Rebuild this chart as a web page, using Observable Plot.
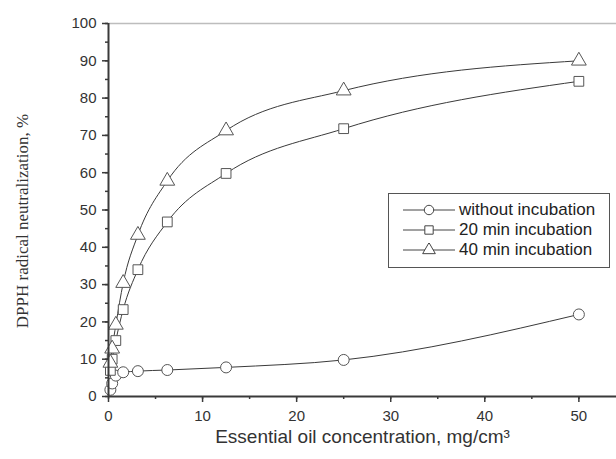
<!DOCTYPE html>
<html>
<head>
<meta charset="utf-8">
<script src="https://cdn.jsdelivr.net/npm/d3@7"></script>
<script src="https://cdn.jsdelivr.net/npm/@observablehq/plot@0.6"></script>
<style>
  html, body { margin: 0; padding: 0; background: #fff; }
  #wrap { position: relative; width: 616px; height: 459px; }
  #legend { position: absolute; left: 388px; top: 193px; width: 222px; height: 75px;
    border: 1px solid #555; background: #fff; box-sizing: border-box;
    font-family: "Liberation Sans", Arial, sans-serif; font-size: 17px; color: #222; padding-top: 6px; }
  .row { display: flex; align-items: center; height: 20px; }
  .row svg { margin-left: 14px; margin-right: 4px; }
</style>
</head>
<body>
<div id="wrap"></div>
<script>
const conc = [0.2, 0.39, 0.78, 1.56, 3.125, 6.25, 12.5, 25, 50];
const seriesNames = ["without incubation", "20 min incubation", "40 min incubation"];
const seriesSymbols = ["circle", "square", "triangle"];
const withoutIncubation = [1.8, 3.5, 5.6, 6.5, 6.8, 7.1, 7.8, 9.8, 22];
const min20Incubation = [7, 10, 15, 23.3, 34, 46.8, 59.8, 71.8, 84.5];
const min40Incubation = [9, 12.8, 19.2, 30.4, 43.3, 57.8, 71.3, 82, 90];
const yMajorTicks = d3.range(0, 101, 10);
const yMinorTicks = d3.range(0, 101, 5);
const xMajorTicks = [0, 10, 20, 30, 40, 50];
const xMinorTicks = d3.range(0, 55, 5);

const values = [withoutIncubation, min20Incubation, min40Incubation];
const data = values.flatMap((vals, i) =>
  vals.map((v, j) => ({ x: conc[j], y: v, series: seriesNames[i], symbol: seriesSymbols[i] })));

const ink = "#3a3a3a";
const chart = Plot.plot({
  width: 616,
  height: 459,
  marginLeft: 108,
  marginRight: 0,
  marginTop: 23,
  marginBottom: 63,
  style: { fontFamily: "Liberation Sans, Arial, sans-serif", fontSize: "14px", color: "#333", background: "#fff" },
  x: { domain: [0, 54], axis: null },
  y: { domain: [0, 100], axis: null },
  marks: [
    Plot.ruleY([100], { stroke: "#bdbdbd", strokeWidth: 1.5 }),
    Plot.line(data, { x: "x", y: "y", z: "series", curve: "monotone-x", stroke: ink, strokeWidth: 1 }),
    Plot.dot(data, { x: "x", y: "y", symbol: "symbol", r: 5.5, fill: "white", stroke: "#555", strokeWidth: 1 }),
    Plot.axisY(yMinorTicks, { tickSize: 3, tickFormat: null, text: null, label: null, stroke: ink, strokeWidth: 1.5 }),
    Plot.axisY(yMajorTicks, { tickSize: 6, tickPadding: 6, stroke: ink, strokeWidth: 1.5, fill: "#333", fontSize: 15, label: null }),
    Plot.axisX(xMinorTicks, { tickSize: 3, tickFormat: null, text: null, label: null, stroke: ink, strokeWidth: 1.5 }),
    Plot.axisX(xMajorTicks, { tickSize: 6, tickPadding: 8, stroke: ink, strokeWidth: 1.5, fill: "#333", fontSize: 15, label: null }),
    Plot.ruleX([0], { stroke: ink, strokeWidth: 2 }),
    Plot.ruleY([0], { stroke: ink, strokeWidth: 2 }),
    Plot.text(["DPPH radical neutralization, %"], { frameAnchor: "left", textAnchor: "middle", dx: -86, dy: 11, rotate: -90, fontFamily: "Liberation Serif, Times New Roman, serif", fontSize: 17, fill: "#333" }),
    Plot.text(["Essential oil concentration, mg/cm³"], { frameAnchor: "bottom", textAnchor: "middle", dy: 46, fontSize: 19, fill: "#333" })
  ]
});
const wrap = document.getElementById("wrap");
wrap.appendChild(chart);

const legend = document.createElement("div");
legend.id = "legend";
seriesNames.forEach((name, i) => {
  const row = document.createElement("div");
  row.className = "row";
  const s = d3.create("svg").attr("width", 52).attr("height", 14);
  s.append("line").attr("x1", 0).attr("x2", 52).attr("y1", 7).attr("y2", 7).attr("stroke", "#444");
  const sym = { circle: d3.symbolCircle, square: d3.symbolSquare, triangle: d3.symbolTriangle }[seriesSymbols[i]];
  s.append("path").attr("transform", "translate(26,7)").attr("d", d3.symbol(sym, 70)())
    .attr("fill", "white").attr("stroke", "#444");
  row.appendChild(s.node());
  const t = document.createElement("span");
  t.textContent = name;
  row.appendChild(t);
  legend.appendChild(row);
});
wrap.appendChild(legend);
</script>
</body>
</html>
